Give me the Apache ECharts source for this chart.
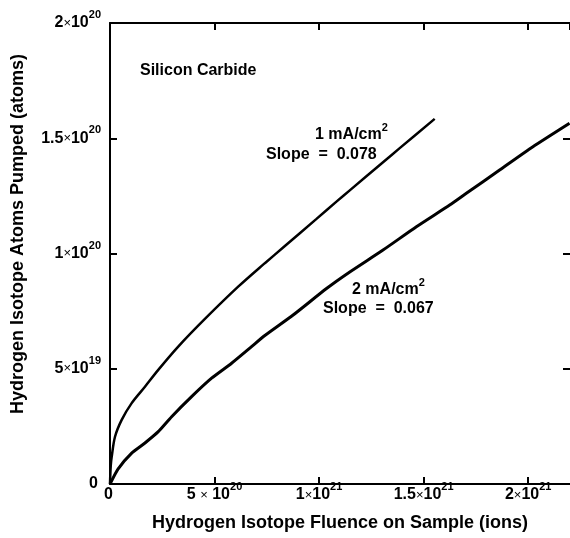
<!DOCTYPE html>
<html><head><meta charset="utf-8">
<script src="https://cdn.jsdelivr.net/npm/echarts@6/dist/echarts.min.js"></script>
<style>html,body{margin:0;padding:0;background:#fff}#c{width:570px;height:538px}</style>
</head><body><div id="c"></div>
<script>
// Tick values and labels
const xTicks = [0, 5e20, 1e21, 1.5e21, 2e21];
const xTickMant = ['0', '5 ', '1', '1.5', '2'];
const xTickBase = ['', ' 10', '10', '10', '10'];
const xTickExp = ['', '20', '21', '21', '21'];
const yTicks = [0, 5e19, 1e20, 1.5e20, 2e20];
const yTickMant = ['0', '5', '1', '1.5', '2'];
const yTickBase = ['', '10', '10', '10', '10'];
const yTickExp = ['', '19', '20', '20', '20'];

// Series: 1 mA/cm2
const s1x = [0, 0.014e20, 0.038e20, 0.081e20, 0.239e20, 0.559e20, 1.037e20, 1.672e20, 2.308e20, 3.263e20, 4.539e20, 6.130e20, 7.406e20, 8.280e20, 9.876e20, 10.83e20, 11.467e20, 13.058e20, 13.856e20, 15.528e20];
const s1y = [0, 0.39e19, 0.82e19, 1.18e19, 2.05e19, 2.78e19, 3.51e19, 4.22e19, 4.95e19, 5.96e19, 7.16e19, 8.56e19, 9.58e19, 10.26e19, 11.50e19, 12.25e19, 12.74e19, 13.96e19, 14.57e19, 15.84e19];
// Series: 2 mA/cm2
const s2x = [0, 0.382e20, 1.037e20, 1.672e20, 2.308e20, 2.948e20, 3.903e20, 4.859e20, 5.815e20, 6.770e20, 7.406e20, 8.758e20, 10.354e20, 11.467e20, 13.058e20, 14.653e20, 16.245e20, 17.043e20, 18.634e20, 20.225e20, 21.978e20];
const s2y = [0, 0.65e19, 1.34e19, 1.78e19, 2.27e19, 2.92e19, 3.79e19, 4.59e19, 5.24e19, 5.96e19, 6.44e19, 7.33e19, 8.48e19, 9.20e19, 10.15e19, 11.16e19, 12.10e19, 12.61e19, 13.62e19, 14.63e19, 15.65e19];

const FONT = 'Liberation Sans';
const supRich = {
  m: {fontFamily: FONT, fontSize: 16, fontWeight: 'bold', color: '#000', verticalAlign: 'middle'},
  x: {fontFamily: FONT, fontSize: 13, fontWeight: 'normal', color: '#000', verticalAlign: 'middle'},
  s: {fontFamily: FONT, fontSize: 11, fontWeight: 'bold', color: '#000', lineHeight: 11, padding: [0, 0, 16, 0]}
};
function tickFmt(ticks, mant, base, exp) {
  return function (v) {
    for (let i = 0; i < ticks.length; i++) {
      if (Math.abs(v - ticks[i]) < Math.abs(ticks[1]) * 1e-6) {
        if (!exp[i]) return '{m|' + mant[i] + '}{s| }';
        return '{m|' + mant[i] + '}{x|×}{m|' + base[i] + '}{s|' + exp[i] + '}';
      }
    }
    return '';
  };
}
const lineSty = {color: '#000', width: 2};
function axisCommon(min, max, interval) {
  return {
    type: 'value', min: min, max: max, interval: interval,
    axisLine: {show: true, onZero: false, lineStyle: lineSty},
    axisTick: {show: true, inside: true, length: 7, lineStyle: lineSty},
    splitLine: {show: false},
  };
}
const chart = echarts.init(document.getElementById('c'), null, {renderer: 'canvas'});
const annRich = {
  a: {fontFamily: FONT, fontSize: 16, fontWeight: 'bold', color: '#000', verticalAlign: 'middle'},
  s: {fontFamily: FONT, fontSize: 11, fontWeight: 'bold', color: '#000', lineHeight: 11, padding: [0, 0, 14, 0]}
};
const rightAxis = axisCommon(0, 2e20, 5e19);
rightAxis.axisLine = {show: false, onZero: false, lineStyle: lineSty};
chart.setOption({
  animation: false,
  backgroundColor: '#fff',
  grid: {left: 110, top: 23, right: -1, bottom: 54, containLabel: false},
  xAxis: [
    Object.assign(axisCommon(0, 2.2e21, 5e20), {
      position: 'bottom',
      axisLabel: {margin: 3, formatter: tickFmt(xTicks, xTickMant, xTickBase, xTickExp), rich: supRich, showMaxLabel: false}
    }),
    Object.assign(axisCommon(0, 2.2e21, 5e20), {position: 'top', axisLabel: {show: false}})
  ],
  yAxis: [
    Object.assign(axisCommon(0, 2e20, 5e19), {
      position: 'left',
      axisLabel: {margin: 9, formatter: tickFmt(yTicks, yTickMant, yTickBase, yTickExp), rich: supRich}
    }),
    Object.assign(rightAxis, {position: 'right', axisLabel: {show: false}})
  ],
  series: [
    {type: 'line', name: '1 mA/cm2', xAxisIndex: 0, yAxisIndex: 0, showSymbol: false, smooth: 0.3,
     lineStyle: {color: '#000', width: 2.5}, data: s1x.map((v, i) => [v, s1y[i]])},
    {type: 'line', name: '2 mA/cm2', xAxisIndex: 0, yAxisIndex: 0, showSymbol: false, smooth: 0.2,
     lineStyle: {color: '#000', width: 3}, data: s2x.map((v, i) => [v, s2y[i]])}
  ],
  graphic: [
    {type: 'text', x: 18, y: 234, rotation: Math.PI / 2,
     style: {text: 'Hydrogen Isotope Atoms Pumped (atoms)', font: 'bold 18px "Liberation Sans"', fill: '#000', align: 'center', verticalAlign: 'middle'}},
    {type: 'text', x: 340, y: 523,
     style: {text: 'Hydrogen Isotope Fluence on Sample (ions)', font: 'bold 18px "Liberation Sans"', fill: '#000', align: 'center', verticalAlign: 'middle'}},
    {type: 'text', x: 140, y: 71,
     style: {text: 'Silicon Carbide', font: 'bold 16px "Liberation Sans"', fill: '#000', align: 'left', verticalAlign: 'middle'}},
    {type: 'text', x: 315, y: 135,
     style: {text: '{a|1 mA/cm}{s|2}', rich: annRich, align: 'left', verticalAlign: 'middle'}},
    {type: 'text', x: 266, y: 155,
     style: {text: 'Slope  =  0.078', font: 'bold 16px "Liberation Sans"', fill: '#000', align: 'left', verticalAlign: 'middle'}},
    {type: 'text', x: 352, y: 290,
     style: {text: '{a|2 mA/cm}{s|2}', rich: annRich, align: 'left', verticalAlign: 'middle'}},
    {type: 'text', x: 323, y: 309,
     style: {text: 'Slope  =  0.067', font: 'bold 16px "Liberation Sans"', fill: '#000', align: 'left', verticalAlign: 'middle'}}
  ]
});
</script></body></html>
